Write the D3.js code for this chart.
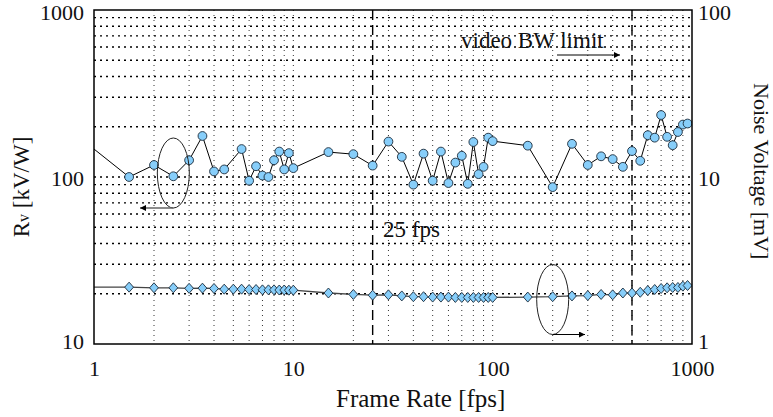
<!DOCTYPE html>
<html>
<head>
<meta charset="utf-8">
<script src="https://cdn.jsdelivr.net/npm/d3@7"></script>
<style>
  html, body { margin: 0; padding: 0; background: #fff; }
  svg { display: block; }
  text { font-family: "Liberation Serif", "DejaVu Serif", serif; fill: #111; }
</style>
</head>
<body>
<svg id="chart" width="773" height="417"></svg>
<script>
// Responsivity series (left axis)
const rvFps = [1, 1.5, 2, 2.5, 3, 3.5, 4, 4.5, 5.5, 6, 6.5, 7, 7.5, 8, 8.5, 9, 9.5, 10,
  15, 20, 25, 30, 35, 40, 45, 50, 55, 60, 65, 70, 75, 80, 85, 90, 95, 100,
  150, 200, 250, 300, 350, 400, 450, 500, 550, 600, 650, 700, 750, 800, 850, 900, 950];
const rvValues = [147, 100, 118, 101, 126, 176, 108, 111, 147, 95, 116, 102, 100, 126, 142, 111, 139, 113,
  141, 137, 117, 163, 132, 90, 138, 95, 142, 92, 122, 134, 91, 162, 104, 115, 172, 164,
  154, 87, 158, 118, 133, 128, 115, 143, 125, 178, 172, 235, 174, 155, 186, 206, 209];

// Noise voltage series (right axis)
const noiseFps = [1, 1.5, 2, 2.5, 3, 3.5, 4, 4.5, 5, 5.5, 6, 6.5, 7, 7.5, 8, 8.5, 9, 9.5, 10,
  15, 20, 25, 30, 35, 40, 45, 50, 55, 60, 65, 70, 75, 80, 85, 90, 95, 100,
  150, 200, 250, 300, 350, 400, 450, 500, 550, 600, 650, 700, 750, 800, 850, 900, 950];
const noiseValues = [2.19, 2.19, 2.17, 2.17, 2.155, 2.16, 2.15, 2.13, 2.13, 2.13, 2.12, 2.12, 2.11, 2.11, 2.11, 2.105, 2.105, 2.1, 2.1,
  2.02, 1.98, 1.96, 1.97, 1.94, 1.92, 1.92, 1.91, 1.91, 1.91, 1.9, 1.9, 1.9, 1.9, 1.9, 1.9, 1.9, 1.9,
  1.91, 1.92, 1.94, 1.95, 1.98, 1.97, 2.02, 2.02, 2.04, 2.09, 2.12, 2.15, 2.17, 2.18, 2.18, 2.22, 2.24];

// Axis ticks and reference lines
const xTicks = [1, 10, 100, 1000];
const leftTicks = [10, 100, 1000];
const rightTicks = [1, 10, 100];
const markerLines = [25, 500];

const svg = d3.select("#chart");
const frame = { left: 94, right: 692, top: 10, bottom: 344 };
const tickFont = 22;
const labelFont = 23;

const x = d3.scaleLog().domain([1, 1000]).range([frame.left, frame.right]);
const yL = d3.scaleLog().domain([10, 1000]).range([frame.bottom, frame.top]);
const yR = d3.scaleLog().domain([1, 100]).range([frame.bottom, frame.top]);

const defs = svg.append("defs");
defs.append("clipPath").attr("id", "plotClip")
  .append("rect")
  .attr("x", frame.left).attr("y", frame.top)
  .attr("width", frame.right - frame.left).attr("height", frame.bottom - frame.top);
defs.append("marker").attr("id", "arrowHead")
  .attr("viewBox", "0 0 10 10").attr("refX", 10).attr("refY", 5)
  .attr("markerWidth", 13).attr("markerHeight", 6).attr("markerUnits", "userSpaceOnUse")
  .attr("orient", "auto")
  .append("path").attr("d", "M0,0 L10,5 L0,10 Z").attr("fill", "#000");

// minor values within each decade
const decadeMinor = (lo, hi) => {
  const out = [];
  for (let d = lo; d < hi; d *= 10) for (let k = 2; k <= 9; k++) out.push(d * k);
  return out;
};

const grid = svg.append("g");
// vertical grid
const vVals = decadeMinor(1, 1000).concat([10, 100]);
grid.selectAll("line.v").data(vVals).join("line")
  .attr("x1", d => x(d)).attr("x2", d => x(d))
  .attr("y1", frame.top).attr("y2", frame.bottom)
  .attr("stroke", "#333").attr("stroke-width", 1)
  .attr("stroke-dasharray", "1,4");
// horizontal grid
const hVals = decadeMinor(10, 1000).concat([100]);
grid.selectAll("line.h").data(hVals).join("line")
  .attr("x1", frame.left).attr("x2", frame.right)
  .attr("y1", d => yL(d)).attr("y2", d => yL(d))
  .attr("stroke", "#000").attr("stroke-width", 1.4)
  .attr("stroke-dasharray", "2,4");

// dashed reference lines at 25 fps and the video bandwidth limit
svg.append("g").selectAll("line").data(markerLines).join("line")
  .attr("x1", d => x(d)).attr("x2", d => x(d))
  .attr("y1", frame.top).attr("y2", frame.bottom)
  .attr("stroke", "#000").attr("stroke-width", 1.4)
  .attr("stroke-dasharray", "10,5");

const plot = svg.append("g").attr("clip-path", "url(#plotClip)");

const rvData = rvFps.map((f, i) => ({ fps: f, v: rvValues[i] }));
const noiseData = noiseFps.map((f, i) => ({ fps: f, v: noiseValues[i] }));

plot.append("path").datum(noiseData)
  .attr("fill", "none").attr("stroke", "#444").attr("stroke-width", 1.3)
  .attr("d", d3.line().x(d => x(d.fps)).y(d => yR(d.v)));

plot.append("path").datum(rvData)
  .attr("fill", "none").attr("stroke", "#000").attr("stroke-width", 1)
  .attr("d", d3.line().x(d => x(d.fps)).y(d => yL(d.v)));

const fillBlue = "#87cefa";
plot.selectAll("path.dia").data(noiseData.filter(d => d.fps > 1)).join("path")
  .attr("class", "dia")
  .attr("transform", d => `translate(${x(d.fps)},${yR(d.v)})`)
  .attr("d", "M0,-5 L4.4,0 L0,5 L-4.4,0 Z")
  .attr("fill", fillBlue).attr("stroke", "#1a2a3a").attr("stroke-width", 0.9);

plot.selectAll("circle.pt").data(rvData.filter(d => d.fps > 1)).join("circle")
  .attr("class", "pt")
  .attr("cx", d => x(d.fps)).attr("cy", d => yL(d.v)).attr("r", 4.4)
  .attr("fill", fillBlue).attr("stroke", "#1a2a3a").attr("stroke-width", 0.9);

// frame
svg.append("rect")
  .attr("x", frame.left).attr("y", frame.top)
  .attr("width", frame.right - frame.left).attr("height", frame.bottom - frame.top)
  .attr("fill", "none").attr("stroke", "#000").attr("stroke-width", 1.5);

// axes
const fmt = d => String(d);
const styleAxis = g => {
  g.select(".domain").remove();
  g.selectAll("text").attr("font-size", tickFont)
    .attr("font-family", "Liberation Serif, serif").attr("fill", "#111");
};
// vertical offset of y tick labels: top labels sit just below the frame edge,
// bottom labels just above it
const yLabelDy = (scale, d) => {
  const [lo, hi] = scale.domain();
  if (d === hi) return "0.45em";
  if (d === lo) return "0.2em";
  return "0.4em";
};
svg.append("g").attr("transform", `translate(0,${frame.bottom})`)
  .call(d3.axisBottom(x).tickValues(xTicks).tickFormat(fmt).tickSize(0).tickPadding(16.4))
  .call(styleAxis);
svg.append("g").attr("transform", `translate(${frame.left},0)`)
  .call(d3.axisLeft(yL).tickValues(leftTicks).tickFormat(fmt).tickSize(0).tickPadding(10))
  .call(styleAxis)
  .call(g => g.selectAll("text").attr("dy", d => yLabelDy(yL, d)));
svg.append("g").attr("transform", `translate(${frame.right},0)`)
  .call(d3.axisRight(yR).tickValues(rightTicks).tickFormat(fmt).tickSize(0).tickPadding(6))
  .call(styleAxis)
  .call(g => g.selectAll("text").attr("dy", d => yLabelDy(yR, d)));

// axis titles
svg.append("text").attr("x", 336).attr("y", 407)
  .attr("font-size", 25)
  .text("Frame Rate [fps]");

const lt = svg.append("text").attr("transform", "translate(29,187) rotate(-90)")
  .attr("text-anchor", "middle").attr("font-size", labelFont);
lt.append("tspan").text("R");
lt.append("tspan").attr("font-size", 16).text("v");
lt.append("tspan").text(" [kV/W]");

svg.append("text").attr("transform", "translate(754,83) rotate(90)")
  .attr("font-size", 22)
  .text("Noise Voltage [mV]");

// annotations
svg.append("text").attr("x", 461).attr("y", 48)
  .attr("font-size", labelFont)
  .text("video BW limit");
svg.append("line").attr("x1", 557).attr("y1", 55).attr("x2", 620).attr("y2", 55)
  .attr("stroke", "#000").attr("stroke-width", 1).attr("marker-end", "url(#arrowHead)");

svg.append("text").attr("x", 383).attr("y", 237)
  .attr("font-size", labelFont)
  .text("25 fps");

// series callouts: ellipses with arrows pointing to their axes
svg.append("ellipse").attr("cx", x(2.5)).attr("cy", 173).attr("rx", 16).attr("ry", 35)
  .attr("fill", "none").attr("stroke", "#222").attr("stroke-width", 1);
svg.append("line").attr("x1", x(2.5)).attr("y1", 208).attr("x2", 140).attr("y2", 208)
  .attr("stroke", "#666").attr("stroke-width", 1.3).attr("marker-end", "url(#arrowHead)");

svg.append("ellipse").attr("cx", x(200)).attr("cy", 299.5).attr("rx", 16).attr("ry", 35)
  .attr("fill", "none").attr("stroke", "#222").attr("stroke-width", 1);
svg.append("line").attr("x1", x(200)).attr("y1", 334.5).attr("x2", 585).attr("y2", 334.5)
  .attr("stroke", "#000").attr("stroke-width", 1).attr("marker-end", "url(#arrowHead)");
</script>
</body>
</html>
